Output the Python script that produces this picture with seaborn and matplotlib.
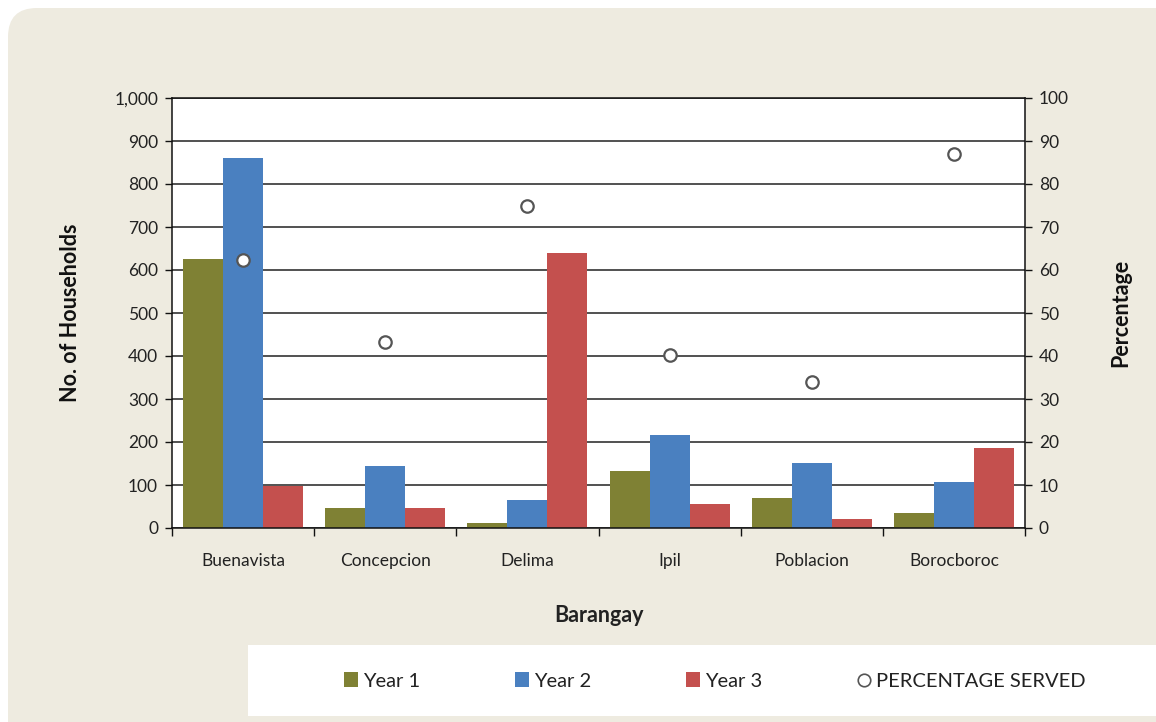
import numpy as np
import pandas as pd
import matplotlib
matplotlib.use("Agg")
import matplotlib.pyplot as plt
from matplotlib.patches import FancyBboxPatch, Rectangle
from matplotlib.lines import Line2D
from matplotlib.ticker import FuncFormatter, MultipleLocator
import seaborn as sns

# --- data ---
barangays = ["Buenavista", "Concepcion", "Delima", "Ipil", "Poblacion", "Borocboroc"]
year1 = [625, 47, 12, 133, 70, 35]
year2 = [860, 144, 65, 216, 151, 107]
year3 = [98, 47, 640, 56, 21, 186]
pct_served = [62.3, 43.3, 75.0, 40.2, 34.0, 87.0]
series_names = ["Year 1", "Year 2", "Year 3"]
colors = ["#7F8134", "#4A80C0", "#C4504E"]

df = pd.DataFrame({
    "Barangay": barangays * 3,
    "Households": year1 + year2 + year3,
    "Year": [s for s in series_names for _ in barangays],
})

sns.set_theme(style="white")
plt.rcParams["font.family"] = ["Lato", "DejaVu Sans"]

fig = plt.figure(figsize=(11.56, 7.22), dpi=100)
fig.patch.set_facecolor("white")

# beige rounded background and white legend strip
fig.patches.append(FancyBboxPatch((8 / 1156, -0.2), 1.2, 1.2 - 8 / 722, boxstyle="round,pad=0,rounding_size=0.025",
                                  transform=fig.transFigure, facecolor="#EEEBE0", edgecolor="none",
                                  mutation_aspect=1156 / 722, zorder=-2))
fig.patches.append(Rectangle((248 / 1156, 6 / 722), 1.0, 71 / 722, transform=fig.transFigure,
                             facecolor="white", edgecolor="none", zorder=-1))

ax = fig.add_axes([172 / 1156, 194 / 722, 853 / 1156, 430 / 722])
ax.set_facecolor("white")

sns.barplot(data=df, x="Barangay", y="Households", hue="Year", palette=colors,
            width=0.845, saturation=1, legend=False, ax=ax, linewidth=0, zorder=2)

ax.set_ylim(0, 1000)
ax.set_xlim(-0.5, 5.5)
ax.yaxis.set_major_locator(MultipleLocator(100))
ax.yaxis.set_major_formatter(FuncFormatter(lambda v, p: f"{int(v):,}"))
ax.yaxis.grid(True, color="#222222", linewidth=1.1)
ax.set_axisbelow(True)
for sp in ax.spines.values():
    sp.set_color("#111111")
    sp.set_linewidth(1.1)

ax.tick_params(axis="y", which="major", direction="out", length=5, width=1, color="#111111",
               labelsize=12.5, labelcolor="#222222", left=True, pad=5)
ax.tick_params(axis="x", which="major", length=0, labelsize=12.5, labelcolor="#222222", pad=18)
ax.set_xticks(np.arange(-0.5, 6, 1), minor=True)
ax.tick_params(axis="x", which="minor", direction="out", length=6, width=1, color="#111111", bottom=True)

ax.set_xlabel("Barangay", fontsize=15.5, fontweight="bold", color="#222222", labelpad=26)
ax.set_ylabel("No. of Households", fontsize=15.5, fontweight="bold", color="#111111", labelpad=24)

ax2 = ax.twinx()
sns.scatterplot(x=np.arange(len(barangays)), y=pct_served, ax=ax2, marker="o", s=80,
                facecolor="white", edgecolor="#555555", linewidth=1.6, zorder=5, legend=False)
ax2.set_ylim(0, 100)
ax2.set_xlim(-0.5, 5.5)
ax2.yaxis.set_major_locator(MultipleLocator(10))
ax2.tick_params(axis="y", direction="out", length=5, width=1, color="#111111",
                labelsize=12.5, labelcolor="#222222", right=True, pad=5)
for sp in ax2.spines.values():
    sp.set_visible(False)
ax2.set_ylabel("Percentage", fontsize=15.5, fontweight="bold", color="#111111", labelpad=30)

handles = [Rectangle((0, 0), 1, 1, facecolor=c, edgecolor="none") for c in colors]
handles.append(Line2D([], [], marker="o", linestyle="none", markerfacecolor="white",
                      markeredgecolor="#555555", markersize=9, markeredgewidth=1.2))
fig.legend(handles, series_names + ["PERCENTAGE SERVED"], loc="center", ncol=4,
           bbox_to_anchor=(715 / 1156, 41 / 722), frameon=False, fontsize=14.5,
           handlelength=0.7, handleheight=0.7, handletextpad=0.25, columnspacing=4.7,
           labelcolor="#222222")

fig.savefig("out.png", dpi=100)
